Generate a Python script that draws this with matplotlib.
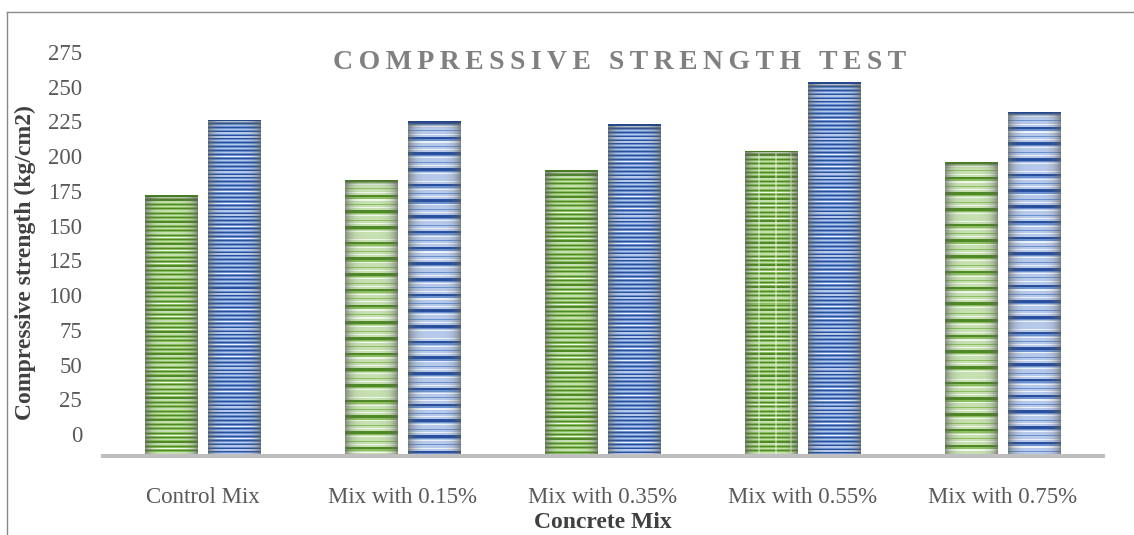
import numpy as np
import matplotlib.pyplot as plt
from matplotlib.lines import Line2D

# compressive strength (kg/cm2) for each concrete mix
mixes = ['Control Mix', 'Mix with 0.15%', 'Mix with 0.35%', 'Mix with 0.55%', 'Mix with 0.75%']
strength_green = [172, 183, 190, 204, 196]
strength_blue = [226, 225, 223, 253, 232]
y_ticks = list(range(0, 276, 25))

# stripe style of each bar group: fine lines or wide bands
green_style = ['fine', 'wide', 'fine', 'grid', 'wide']
blue_style = ['fine', 'wide', 'fine', 'fine', 'wide']

plt.rcParams['font.family'] = ['Liberation Serif', 'DejaVu Serif']

W, H = 1134, 535
fig = plt.figure(figsize=(W / 100, H / 100), dpi=100)
ymin, ymax = -15.8, 285
ax = fig.add_axes([103 / W, (H - 456) / H, 1000 / W, 418 / H])
px_per_unit = 418 / (ymax - ymin)

GREEN = dict(dark=(0.31, 0.54, 0.15), mid=(0.55, 0.75, 0.38),
             light=(0.78, 0.88, 0.70), white=(0.94, 0.97, 0.92))
BLUE = dict(dark=(0.16, 0.31, 0.62), mid=(0.42, 0.57, 0.82),
            light=(0.72, 0.79, 0.92), white=(0.93, 0.95, 0.98))


def stripe_texture(n_rows, n_cols, pal, style):
    rows = np.arange(n_rows) + 0.5
    img = np.zeros((n_rows, n_cols, 3))
    if style == 'wide':
        phase = (rows % 15.7) / 15.7
        col = np.array([pal['light']] * n_rows)
        col[phase < 0.16] = pal['dark']
        col[(phase >= 0.16) & (phase < 0.26)] = pal['mid']
        col[(phase >= 0.30) & (phase < 0.38)] = pal['white']
        col[(phase >= 0.60) & (phase < 0.66)] = pal['mid']
        col[(phase >= 0.80) & (phase < 0.86)] = pal['white']
    else:
        period = 4.4 if pal is GREEN else 3.9
        phase = (rows % period) / period
        col = np.array([pal['mid']] * n_rows)
        col[phase < 0.25] = pal['dark']
        col[(phase >= 0.45) & (phase < 0.75)] = pal['light']
        col[(phase >= 0.55) & (phase < 0.68) & ((rows // period) % 3 == 0)] = pal['white']
    img[:] = col[:, None, :]
    if style == 'grid':
        for f in (0.25, 0.57, 0.85):
            c = int(f * n_cols)
            img[:, c:c + 2] = 0.55 * img[:, c:c + 2] + 0.45 * np.array(pal['white'])
    # darker rim along the sides and the top of each bar
    u = np.linspace(-1, 1, n_cols)
    side = 0.65 * np.abs(u) ** 4
    top = np.zeros(n_rows)
    k = min(8, n_rows)
    top[:k] = np.linspace(0.5, 0.0, k)
    w = np.clip(side[None, :] + top[:, None], 0, 0.7)[..., None]
    shadow = np.array([0.36, 0.38, 0.36])
    img = img * (1 - w) + shadow * w
    img[:2] = np.array(pal['dark']) * 0.9
    return np.clip(img, 0, 1)


x = np.arange(len(mixes))
bw = 0.265
off = 0.1575
for vals, dx, pal, styles in ((strength_green, -off, GREEN, green_style),
                              (strength_blue, off, BLUE, blue_style)):
    bars = ax.bar(x + dx, [v - ymin for v in vals], bw, bottom=ymin,
                  color='none', edgecolor='none', zorder=2)
    for patch, style in zip(bars.patches, styles):
        x0, y0 = patch.get_x(), patch.get_y()
        bw_, bh = patch.get_width(), patch.get_height()
        n_rows = max(int(round(bh * px_per_unit)), 2)
        n_cols = max(int(round(bw_ * 1000 / 5)), 2)
        tex = stripe_texture(n_rows, n_cols, pal, style)
        im = ax.imshow(tex, extent=(x0, x0 + bw_, y0, y0 + bh), origin='upper',
                       aspect='auto', interpolation='nearest', zorder=2)
        im.set_clip_path(patch)

ax.set_xlim(-0.5, len(mixes) - 0.5)
ax.set_ylim(ymin, ymax)
ax.set_yticks(y_ticks)
ax.set_xticks(x)
ax.set_xticklabels(mixes)
for side in ('top', 'right', 'left'):
    ax.spines[side].set_visible(False)
ax.spines['bottom'].set_color('#bfbfbf')
ax.spines['bottom'].set_linewidth(2.9)
ax.spines['bottom'].set_zorder(3)
ax.tick_params(axis='both', length=0, labelsize=16.5, labelcolor='#595959')
ax.tick_params(axis='y', pad=15)
ax.tick_params(axis='x', pad=22)

fig.text(25 / W, 1 - 263 / H, 'Compressive strength (kg/cm2)', rotation=90,
         ha='center', va='center', fontsize=17, fontweight='bold', color='#404040')
fig.text(603 / W, 2 / H, 'Concrete Mix', ha='center', va='bottom',
         fontsize=17, fontweight='bold', color='#404040')
fig.text(620 / W, 1 - 62 / H, '\u2009'.join('COMPRESSIVE STRENGTH TEST'),
         ha='center', va='center', fontsize=20, fontweight='bold', color='#808080')

# outer chart border (top and left edges visible)
fig.add_artist(Line2D([7 / W, 7 / W], [0, 1 - 12 / H], color='#8a8a8a', lw=1))
fig.add_artist(Line2D([7 / W, 1], [1 - 12 / H, 1 - 12 / H], color='#8a8a8a', lw=1))

fig.savefig('out.png', dpi=100)
